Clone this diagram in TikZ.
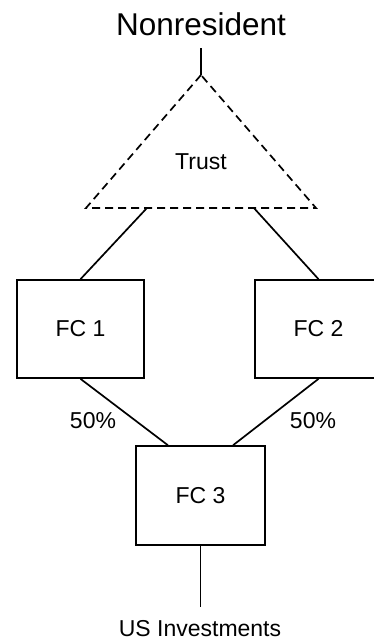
\documentclass[tikz,border=0pt]{standalone}
\usepackage{fontspec}
\setmainfont{Liberation Sans}
\usetikzlibrary{positioning,calc}
\tikzset{
    %Define style for boxes
    firma/.style={
           rectangle,
           draw=black, line width=1.7pt,
           minimum width=127pt,
           minimum height=98pt,
           inner sep=0pt,
           font=\fontsize{23}{27}\selectfont,
           text centered},
    %Define style for labels
    merke/.style={
           inner sep=0pt,
           anchor=base,
           font=\fontsize{23}{27}\selectfont},
    % Define line style
    linje/.style={
           -,
           line width=1.7pt}
}

\begin{document}
\begin{tikzpicture}[x=1pt,y=-1pt]
\useasboundingbox (0,0) rectangle (373,640);

 %nodes
\node[merke, font=\fontsize{31.5}{37}\selectfont](nonres) at (201,35.5){Nonresident};
\node[merke](trust) at (201,169){Trust};
\node[firma](fc1) at (80.5,329){FC 1};
\node[firma](fc2) at (318.5,329){FC 2};
\node[firma, minimum width=129pt, minimum height=99pt](fc3) at (200.5,495.5){FC 3};
\node[merke](p1) at (93,428){50\%};
\node[merke](p2) at (313,428){50\%};
\node[merke](us) at (200,636){US Investments};

 %triangle
\coordinate (apex) at (201,75);
\coordinate (bl) at (86,208);
\coordinate (br) at (316,208);
\draw[linje, dash pattern=on 8pt off 5pt] (apex) -- (bl) -- (br) -- cycle;

 %ends of connectors
\coordinate (topp) at (201,48);
\coordinate (tl) at ($(bl)!0.265!(br)$);
\coordinate (tr) at ($(bl)!0.73!(br)$);
\coordinate (fc3l) at ($(fc3.north west)!0.25!(fc3.north east)$);
\coordinate (fc3r) at ($(fc3.north west)!0.75!(fc3.north east)$);
\coordinate (bunn) at (200.5,607);

\path[linje]
    (topp) edge (apex)
    (tl) edge (fc1.north)
    (tr) edge (fc2.north)
    (fc1.south) edge (fc3l)
    (fc2.south) edge (fc3r)
    (fc3.south) edge (bunn);

\end{tikzpicture}
\end{document}
